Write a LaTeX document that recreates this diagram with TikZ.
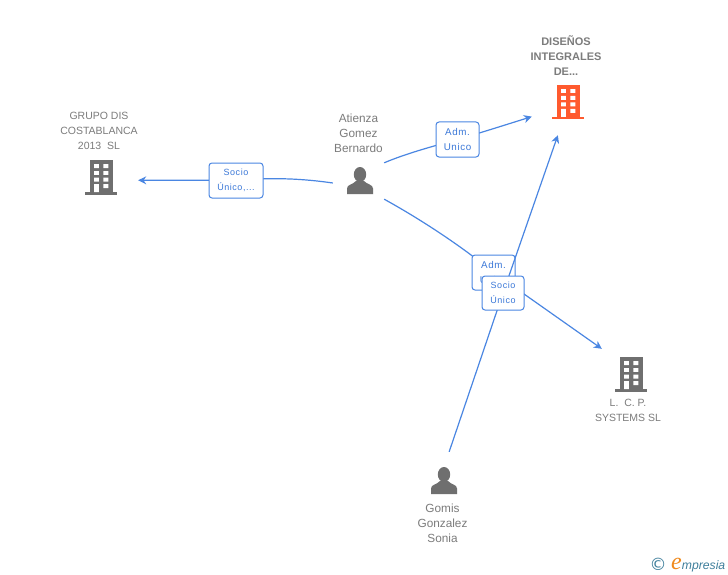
\documentclass[tikz,border=0pt]{standalone}
\usepackage{fontspec}
\setmainfont{Liberation Sans}
\newfontfamily\labfont[LetterSpace=6]{Liberation Sans}
\newfontfamily\logofont{Liberation Serif}
\newfontfamily\symfont{DejaVu Sans}
\usetikzlibrary{arrows.meta,backgrounds}
\pgfdeclarelayer{toplabels}
\pgfsetlayers{background,main,toplabels}
\definecolor{linkblue}{HTML}{4A86E2}
\definecolor{labblue}{HTML}{3B78D8}
\definecolor{icongray}{HTML}{6F6F6F}
\definecolor{textgray}{HTML}{7C7C7C}
\definecolor{hotorange}{HTML}{FF5A2E}
\definecolor{logoteal}{HTML}{3F7F9C}
\definecolor{logoorange}{HTML}{F08A1D}
\tikzset{
  pics/bldg/.style={code={
    \fill[#1] (-11.5,-17) rectangle (11.5,15);
    \fill[#1] (-16,15) rectangle (16,17.5);
    \fill[white] (-6.8,-12.8) rectangle (-2.2,-9) (2.4,-12.8) rectangle (7.4,-9)
                 (-6.8,-6) rectangle (-2.2,-2.2) (2.4,-6) rectangle (7.4,-2.2)
                 (-6.8,0.5) rectangle (-2.2,4.5) (2.4,0.5) rectangle (7.4,4.5)
                 (-6.8,7) rectangle (-2.2,15) (2.4,7) rectangle (7.4,11);
  }},
  pics/persona/.style={code={
    \fill[icongray] (0,-6.5) ellipse (6.2 and 7.5);
    \fill[icongray] (-13,13) -- (-13,7.5) .. controls (-13,3.5) and (-7,3.5) .. (-4,0)
       -- (4,0) .. controls (7,3.5) and (13,3.5) .. (13,7.5) -- (13,13) -- cycle;
  }},
  anchorbox/.style={inner sep=0pt,minimum width=#1},
  nametext/.style={text=textgray,align=center,font=\fontsize{10.5}{15}\selectfont,inner sep=0pt},
  personname/.style={nametext,font=\fontsize{11.8}{15}\selectfont},
  boldname/.style={nametext,font=\fontsize{11}{15}\selectfont\bfseries},
  linkbox/.style={draw=linkblue,line width=1pt,fill=white,rounded corners=3pt,text=labblue,
     align=center,inner sep=0pt,font=\labfont\fontsize{9}{15}\selectfont},
  admbox/.style={linkbox,font=\labfont\fontsize{9.8}{15}\selectfont},
  link/.style={draw=linkblue,line width=1.2pt},
  tip/.style={-{Stealth[length=8pt,width=8pt]}}
}
\begin{document}
\begin{tikzpicture}[x=1pt,y=-1pt]
\useasboundingbox (0,0) rectangle (728,575);
% icon anchor boxes
\node[anchorbox=74pt,minimum height=20pt] (grupo) at (101,177) {};
\node[anchorbox=72pt,minimum height=66pt] (disenos) at (568,102) {};
\node[anchorbox=58pt,minimum height=50pt] (lcp) at (631,374) {};
\node[anchorbox=51pt,minimum height=36pt] (bernardo) at (358.5,181) {};
\node[anchorbox=40pt,minimum height=58pt] (gomis) at (444,481) {};
% icons
\pic at (grupo) {bldg=icongray};
\pic at (disenos) {bldg=hotorange};
\pic at (lcp) {bldg=icongray};
\pic at (360,181) {persona};
\pic at (gomis) {persona};
% names
\node[nametext] (tgrupo) at (99,131) {GRUPO DIS\\COSTABLANCA\\2013\ \ SL};
\node[boldname] (tdisenos) at (566,56) {DISEÑOS\\INTEGRALES\\DE...};
\node[personname] (tbern) at (358.5,133) {Atienza\\Gomez\\Bernardo};
\node[nametext] (tlcp) at (628,410.5) {L.\ \ C. P.\\SYSTEMS SL};
\node[personname] (tgomis) at (442.5,523) {Gomis\\Gonzalez\\Sonia};
% connector labels
\node[linkbox,minimum width=54pt,minimum height=35pt] (l1) at (236,180.5) {Socio\\Único,...};
\node[admbox,minimum width=43pt,minimum height=35pt] (l2) at (457.5,139.5) {Adm.\hspace{2pt}\\Unico\hspace{2pt}};
\node[admbox,minimum width=43pt,minimum height=35pt] (l3) at (493.5,272.5) {Adm.\hspace{2pt}\\Unico\hspace{2pt}};
\begin{pgfonlayer}{toplabels}
\node[linkbox,minimum width=42pt,minimum height=34pt] (l4) at (503,293) {Socio\\Único};
\end{pgfonlayer}
% connectors
\begin{pgfonlayer}{background}
\fill[white] (0,0) rectangle (728,575);
\draw[link] ([yshift=-2pt]bernardo.west) .. controls (305,179) and (275,177) .. (l1.center);
\draw[link,tip] (l1.center) .. controls (200,180) and (170,180.5) .. (grupo.355.4);
\draw[link] (bernardo.north east) .. controls (405,154) and (430,147) .. (l2.center);
\draw[link,tip] (l2.center) .. controls (480,133) and (505,125) .. (disenos.202.6);
\draw[link] (bernardo.south east) .. controls (420,219) and (460,245) .. (l3.center);
\draw[link,tip] (l3.center) -- (lcp.north west);
\end{pgfonlayer}
% this connector runs over the first label of the overlap, under the second
\draw[link] (gomis.80.2) -- (l4.center);
\draw[link,tip] (l4.center) -- (disenos.253.1);
% logo
\node[text=logoteal,inner sep=0pt,font=\symfont\fontsize{17}{17}\selectfont] (copy) at (658,564) {©};
\node[anchor=base west,inner sep=0pt,text=logoteal,font=\itshape\fontsize{12.2}{13}\selectfont] (logo) at (671,569.5)
  {{\color{logoorange}\logofont\itshape\fontsize{24}{24}\selectfont e}mpresia};
\end{tikzpicture}
\end{document}
